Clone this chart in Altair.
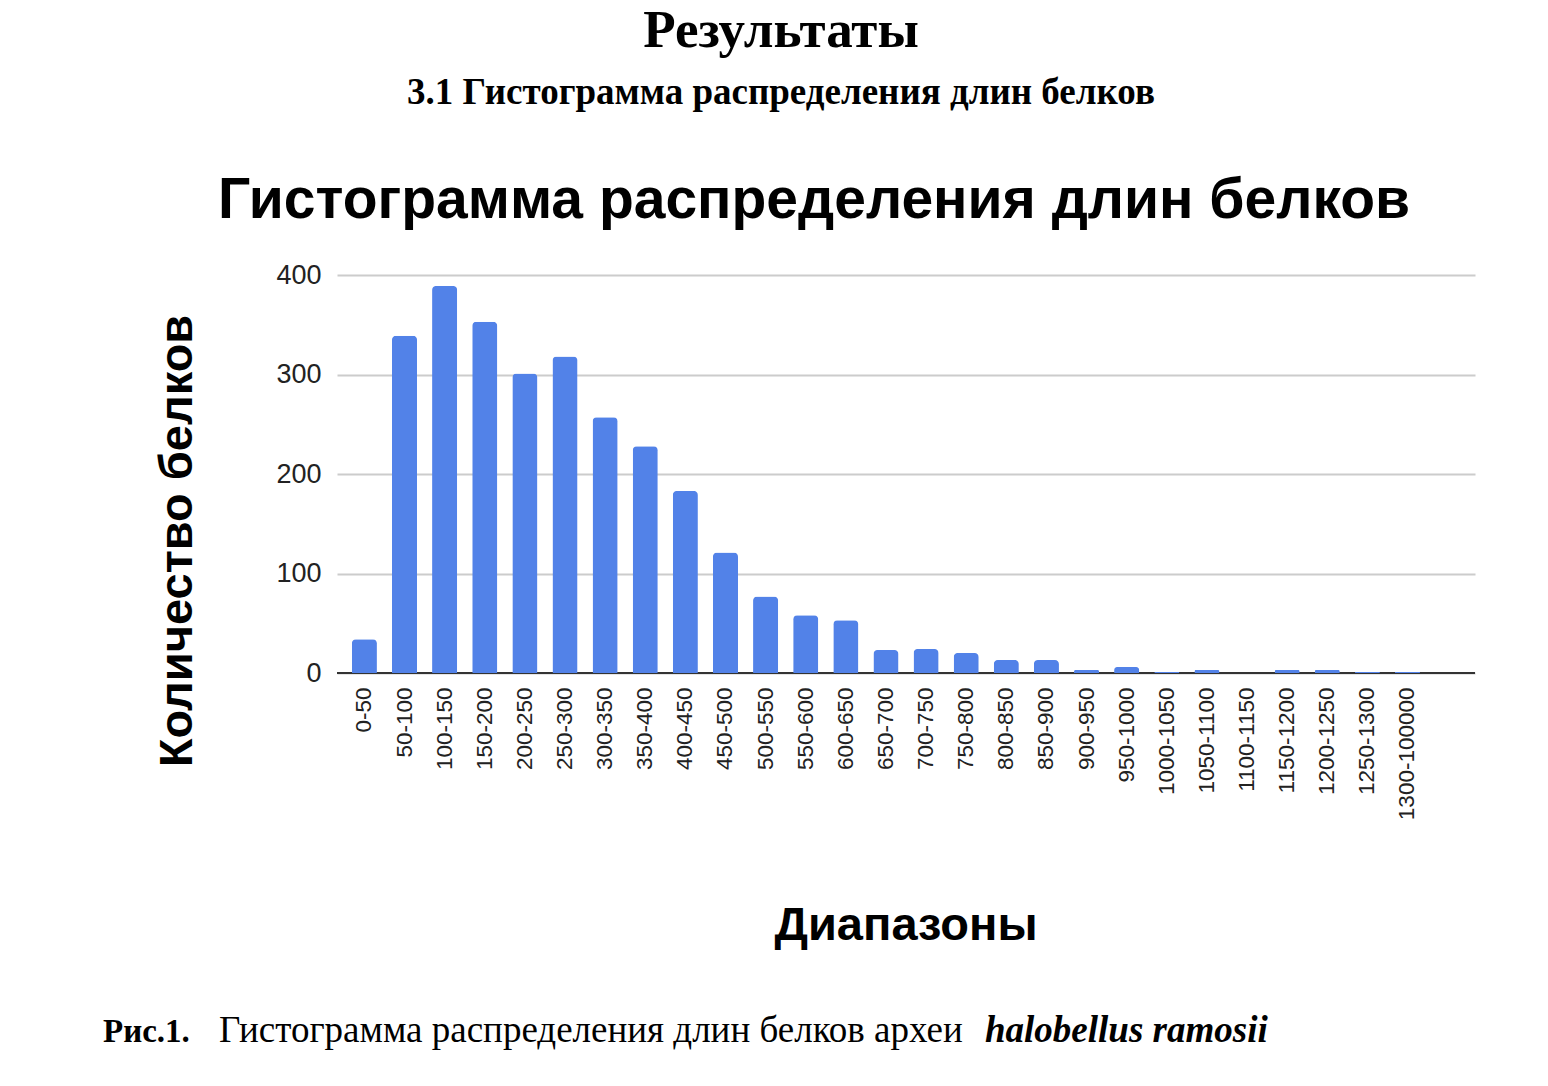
import altair as alt
import pandas as pd

categories = ["0-50", "50-100", "100-150", "150-200", "200-250", "250-300", "300-350",
              "350-400", "400-450", "450-500", "500-550", "550-600", "600-650", "650-700",
              "700-750", "750-800", "800-850", "850-900", "900-950", "950-1000",
              "1000-1050", "1050-1100", "1100-1150", "1150-1200", "1200-1250",
              "1250-1300", "1300-100000"]
counts = [34, 339, 389, 353, 301, 318, 257, 228, 183, 121, 77, 58, 53, 23, 24, 20, 13, 13,
          3, 6, 1, 3, 0, 3, 3, 1, 1]
y_ticks = [0, 100, 200, 300, 400]

df = pd.DataFrame({"range": categories, "count": counts})
domain = categories + [" "]

W, H = 1138, 398
BLUE = "#5282e8"

bars = alt.Chart(df).mark_bar(color=BLUE, cornerRadiusTopLeft=4, cornerRadiusTopRight=4).encode(
    x=alt.X("range:N", sort=domain,
            scale=alt.Scale(domain=domain, paddingInner=0.375, paddingOuter=0.37),
            axis=alt.Axis(title=None, labelAngle=-90, labelAlign="right", labelBaseline="middle",
                          labelFont="Liberation Sans", labelFontSize=22.5, labelColor="#222222",
                          labelPadding=14, ticks=False, domain=False, grid=False,
                          labelOverlap=False)),
    y=alt.Y("count:Q", scale=alt.Scale(domain=[0, 400], nice=False),
            axis=alt.Axis(title=None, values=y_ticks, labelFont="Liberation Sans",
                          labelFontSize=27, labelColor="#222222", labelPadding=16,
                          ticks=False, domain=False, gridColor="#cccccc", gridWidth=2)),
)

base_line = alt.Chart(alt.Data(values=[{"v": 0}])).mark_rule(color="#333333", strokeWidth=2).encode(
    y=alt.Y("v:Q", scale=alt.Scale(domain=[0, 400], nice=False)),
    x=alt.value(0), x2=alt.value(W)
)

one = alt.Data(values=[{"a": 1}])

def txt(text, x, y, size, font, weight="normal", style="normal", align="center", angle=0,
        color="#000000"):
    kw = dict(text=text, font=font, fontSize=size, fontWeight=weight, fontStyle=style,
              align=align, baseline="alphabetic", color=color)
    if angle:
        kw["angle"] = angle
    return alt.Chart(one).mark_text(**kw).encode(x=alt.value(x), y=alt.value(y))

texts = [
    txt("Результаты", 444, -228, 53, "Liberation Serif", weight="bold"),
    txt("3.1 Гистограмма распределения длин белков", 444, -171, 37, "Liberation Serif", weight="bold"),
    txt("Гистограмма распределения длин белков", 477, -57, 57, "Liberation Sans", weight="bold"),
    txt("Количество белков", -145, 266, 47, "Liberation Sans", weight="bold", angle=270),
    txt("Диапазоны", 569, 665, 47, "Liberation Sans", weight="bold"),
    txt("Рис.1.", -234, 767, 33, "Liberation Serif", weight="bold", align="left"),
    txt("Гистограмма распределения длин белков археи", -118, 767, 37, "Liberation Serif", align="left"),
    txt("halobellus ramosii", 648, 767, 37, "Liberation Serif", weight="bold", style="italic", align="left"),
]

chart = alt.layer(base_line, bars, *texts).properties(
    width=W, height=H,
    padding={"left": 337, "top": 275, "right": 1548 - 337 - W, "bottom": 1086 - 275 - H},
    autosize=alt.AutoSizeParams(type="none"),
    background="white",
).configure_view(stroke=None)

chart.save("out.html", embed_options={"renderer": "svg", "actions": False})
